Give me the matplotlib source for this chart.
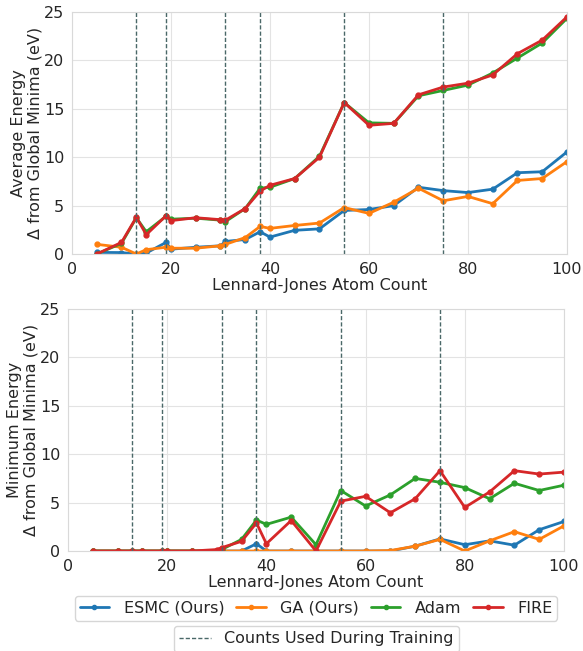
import matplotlib
matplotlib.use('Agg')
import matplotlib.pyplot as plt
import seaborn as sns
from matplotlib.lines import Line2D

sns.set_style('whitegrid', {'grid.color': '#e3e3e3', 'axes.edgecolor': '#d9d9d9'})
plt.rcParams['font.family'] = ['DejaVu Sans']

counts = [5, 10, 13, 15, 19, 20, 25, 30, 31, 35, 38, 40, 45, 50, 55, 60, 65, 70, 75, 80, 85, 90, 95, 100]
train_counts = [13, 19, 31, 38, 55, 75]

# average energy gap
avg_esmc = [0.17, 0.15, 0.0, 0.1, 1.2, 0.5, 0.7, 0.85, 1.3, 1.5, 2.3, 1.75, 2.45, 2.6,
            4.5, 4.6, 5.0, 6.9, 6.55, 6.35, 6.7, 8.4, 8.5, 10.55]
avg_ga = [1.0, 0.7, 0.0, 0.45, 0.7, 0.6, 0.6, 0.85, 1.0, 1.7, 2.85, 2.65, 2.95, 3.2,
          4.8, 4.2, 5.35, 6.8, 5.5, 5.95, 5.2, 7.6, 7.8, 9.55]
avg_adam = [0.0, 1.1, 3.75, 2.3, 3.9, 3.6, 3.7, 3.5, 3.35, 4.7, 6.8, 6.9, 7.8, 10.1,
            15.65, 13.55, 13.5, 16.35, 16.9, 17.45, 18.7, 20.25, 21.8, 24.35]
avg_fire = [0.0, 1.2, 3.8, 2.0, 3.95, 3.45, 3.75, 3.55, 3.5, 4.7, 6.5, 7.1, 7.8, 10.0,
            15.65, 13.3, 13.5, 16.45, 17.25, 17.65, 18.5, 20.7, 22.1, 24.5]

# minimum energy gap
min_esmc = [0, 0, 0, 0, 0, 0, 0, 0, 0, 0, 0.75, 0, 0, 0,
            0, 0, 0, 0.5, 1.25, 0.65, 1.05, 0.6, 2.2, 3.05]
min_ga = [0, 0, 0, 0, 0, 0, 0, 0, 0, 0, 0, 0, 0, 0,
          0, 0, 0.05, 0.5, 1.2, 0.0, 1.05, 2.0, 1.2, 2.6]
min_adam = [0, 0, 0, 0, 0, 0, 0, 0, 0.15, 1.2, 3.2, 2.75, 3.5, 0.65,
            6.25, 4.65, 5.8, 7.5, 7.1, 6.55, 5.4, 7.0, 6.25, 6.8]
min_fire = [0, 0, 0, 0, 0, 0, 0, 0.15, 0.35, 1.0, 2.9, 0.75, 3.15, 0.0,
            5.15, 5.65, 3.95, 5.4, 8.3, 4.5, 6.1, 8.3, 7.95, 8.15]

names = ['ESMC (Ours)', 'GA (Ours)', 'Adam', 'FIRE']
colors = ['#1f77b4', '#ff7f0e', '#2ca02c', '#d62728']
vcolor = '#4a6868'
fs = 11.5

fig = plt.figure(figsize=(5.83, 6.51), dpi=100)
ax1 = fig.add_axes([0.1235, 0.6098, 0.849, 0.3717])
ax2 = fig.add_axes([0.1166, 0.1536, 0.8508, 0.3717])

panels = [(ax1, [avg_esmc, avg_ga, avg_adam, avg_fire], 'Average Energy'),
          (ax2, [min_esmc, min_ga, min_adam, min_fire], 'Minimum Energy')]

for ax, series, title in panels:
    for vals, name, c in zip(series, names, colors):
        ax.plot(counts, vals, color=c, marker='o', markersize=3.5, linewidth=2, label=name)
    for t in train_counts:
        ax.axvline(t, color=vcolor, linestyle=(0, (3, 1.5)), linewidth=1)
    ax.set_xlim(0, 100)
    ax.set_ylim(0, 25)
    ax.set_xlabel('Lennard-Jones Atom Count', fontsize=fs, labelpad=1)
    ax.set_ylabel(title + '\n\u0394 from Global Minima (eV)', fontsize=fs, labelpad=1,
                  linespacing=1.1)
    ax.tick_params(labelsize=fs, pad=2)

handles = [Line2D([], [], color=c, marker='o', markersize=3, linewidth=2) for c in colors]
fig.legend(handles, names, loc='upper center', bbox_to_anchor=(0.542, 0.0845), ncol=4,
           fontsize=fs, frameon=True, handlelength=1.85, columnspacing=0.75, handletextpad=0.9,
           borderaxespad=0, borderpad=0.3)
vline = Line2D([], [], color=vcolor, linestyle=(0, (3, 1.5)), linewidth=1)
fig.legend([vline], ['Counts Used During Training'], loc='upper center',
           bbox_to_anchor=(0.543, 0.039), fontsize=fs, frameon=True, borderaxespad=0,
           borderpad=0.35)

fig.savefig('out.png', dpi=100)
